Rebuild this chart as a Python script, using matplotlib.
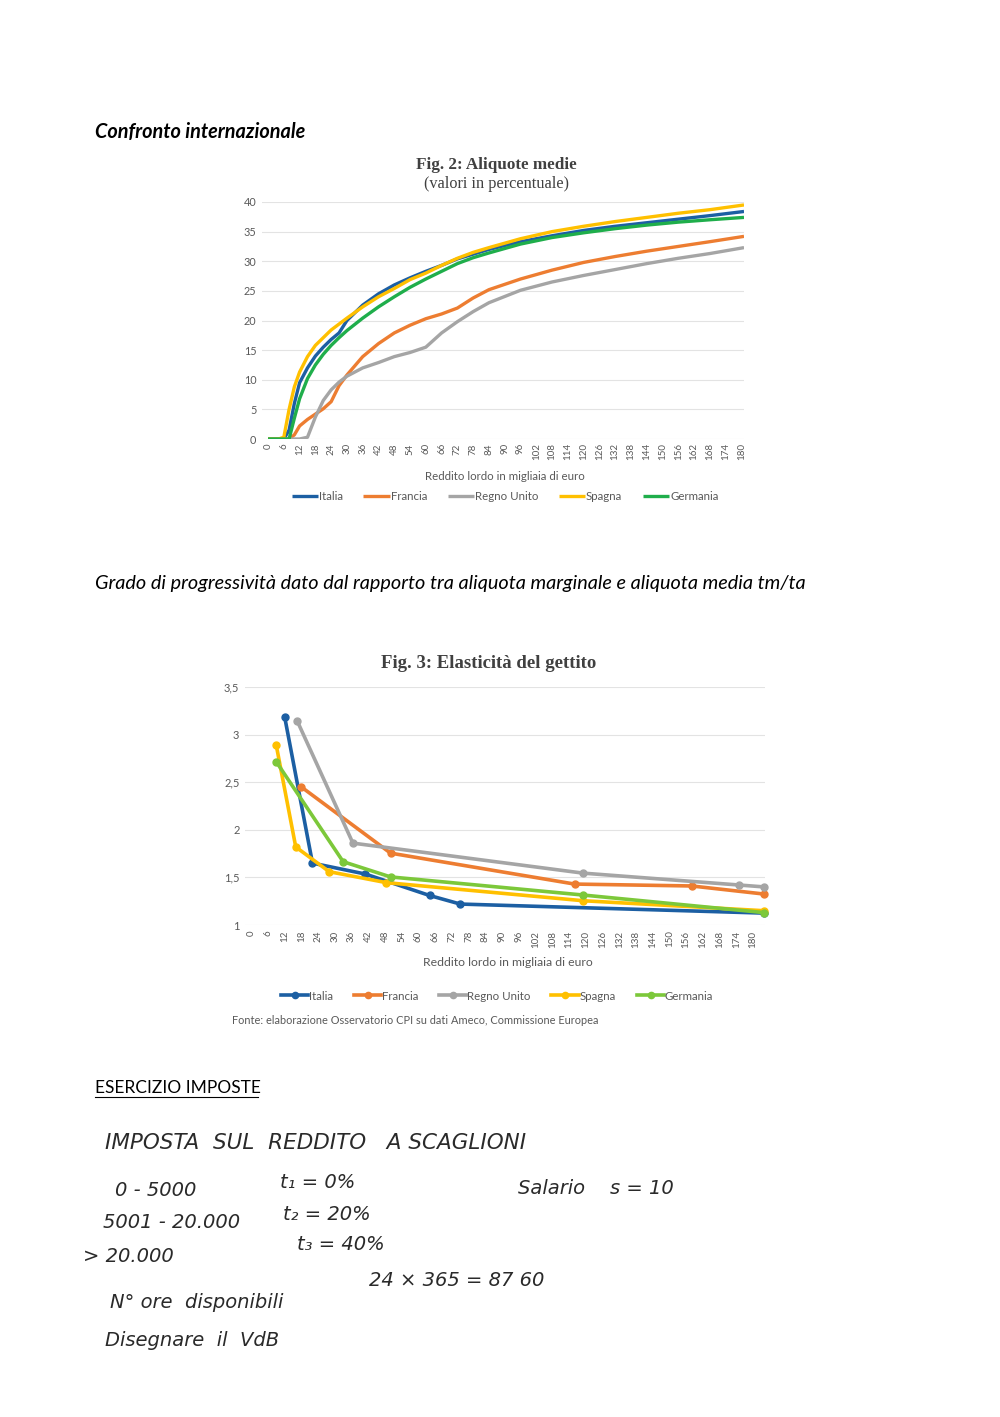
import matplotlib.pyplot as plt

# --- Fig. 2: aliquote medie (valori in percentuale) ---
redditi = [0, 4, 6, 8, 10, 12, 15, 18, 21, 24, 27, 30, 36, 42, 48, 54, 60,
           66, 72, 78, 84, 96, 108, 120, 132, 144, 156, 168, 181]
italia_medie = [0, 0, 0, 1.5, 6, 9.5, 12, 14, 15.5, 16.8, 17.9, 20, 22.6, 24.5,
                26, 27.2, 28.3, 29.3, 30.4, 31.2, 32, 33.3, 34.3, 35.2, 35.9,
                36.5, 37.1, 37.7, 38.4]
francia_medie = [0, 0, 0, 0, 0.7, 2.2, 3.3, 4.2, 5.1, 6.3, 9.0, 10.8, 13.9,
                 16.1, 17.9, 19.2, 20.3, 21.1, 22.1, 23.8, 25.2, 27, 28.5,
                 29.8, 30.8, 31.7, 32.5, 33.3, 34.2]
regno_unito_medie = [0, 0, 0, 0, 0, 0, 0.3, 3.7, 6.5, 8.3, 9.6, 10.6, 12, 12.9,
                     13.9, 14.6, 15.5, 17.9, 19.8, 21.5, 23, 25.1, 26.5, 27.6,
                     28.6, 29.6, 30.5, 31.3, 32.3]
spagna_medie = [0, 0, 0.3, 5, 8.8, 11.3, 13.9, 15.8, 17.1, 18.4, 19.4, 20.4,
                22.3, 24, 25.4, 26.9, 28, 29.3, 30.5, 31.5, 32.3, 33.8, 35,
                35.9, 36.7, 37.4, 38.1, 38.7, 39.5]
germania_medie = [0, 0, 0, 0, 3.5, 6.8, 10.2, 12.5, 14.3, 15.8, 17.1, 18.3,
                  20.4, 22.3, 24, 25.6, 27, 28.3, 29.6, 30.6, 31.4, 32.9, 34,
                  34.8, 35.5, 36.1, 36.6, 37, 37.4]

# --- Fig. 3: elasticità del gettito ---
italia_x = [12, 22, 41, 64, 75, 184]
italia_el = [3.19, 1.65, 1.535, 1.31, 1.22, 1.125]
francia_x = [18, 50, 116, 158, 184]
francia_el = [2.45, 1.755, 1.43, 1.41, 1.325]
regno_unito_x = [16.5, 36.5, 119, 175, 184]
regno_unito_el = [3.145, 1.86, 1.545, 1.42, 1.40]
spagna_x = [9, 16, 28, 48.5, 119, 184]
spagna_el = [2.89, 1.82, 1.56, 1.445, 1.255, 1.15]
germania_x = [9, 33, 50, 119, 184]
germania_el = [2.715, 1.665, 1.505, 1.315, 1.13]

paesi = ["Italia", "Francia", "Regno Unito", "Spagna", "Germania"]
tick_redditi = list(range(0, 181, 6))

colori1 = ["#1c5fa3", "#ed7d31", "#a5a5a5", "#ffc000", "#1fae4b"]
colori2 = ["#1c5fa3", "#ed7d31", "#a5a5a5", "#ffc000", "#7cc83a"]

W, H = 1000, 1417
fig = plt.figure(figsize=(W / 100, H / 100), dpi=100)
plt.rcParams["font.family"] = ["Lato", "DejaVu Sans"]


def fy(py):
    return 1 - py / H


def fx(px):
    return px / W


grigio = "#595959"

# page texts
fig.text(fx(95), fy(132), "Confronto internazionale", fontsize=14.3,
         style="italic", weight="bold", va="center")
fig.text(fx(95), fy(583), "Grado di progressività dato dal rapporto tra aliquota "
         "marginale e aliquota media tm/ta", fontsize=14.3, style="italic",
         va="center")
fig.text(fx(95), fy(1088), "ESERCIZIO IMPOSTE", fontsize=12.5, va="center")
fig.add_artist(plt.Line2D([fx(95), fx(258)], [fy(1097), fy(1097)],
                          color="black", linewidth=0.8))

# ---------- chart 1 ----------
ax1 = fig.add_axes([fx(262), fy(439), fx(744) - fx(262), fy(202) - fy(439)])
serie1 = [italia_medie, francia_medie, regno_unito_medie, spagna_medie,
          germania_medie]
for nome, valori, col in zip(paesi, serie1, colori1):
    ax1.plot(redditi, valori, color=col, linewidth=2.4, label=nome,
             solid_capstyle="butt")
ax1.set_xlim(-2.3, 181)
ax1.set_ylim(0, 40)
ax1.set_yticks(range(0, 41, 5))
ax1.set_xticks(tick_redditi)
ax1.set_xticklabels([str(v) for v in tick_redditi], rotation=90)
ax1.tick_params(axis="both", length=0, labelsize=7, labelcolor=grigio)
ax1.tick_params(axis="y", labelsize=7.8, pad=4)
ax1.tick_params(axis="x", pad=3)
ax1.grid(axis="y", color="#e3e3e3", linewidth=0.8)
ax1.set_axisbelow(True)
for s in ax1.spines.values():
    s.set_visible(False)

fig.text(fx(496), fy(165), "Fig. 2: Aliquote medie", fontsize=12.3,
         family="Liberation Serif", weight="bold", color="#404040",
         ha="center", va="center")
fig.text(fx(497), fy(184), "(valori in percentuale)", fontsize=11.7,
         family="Liberation Serif", color="#404040", ha="center",
         va="center")
fig.text(fx(505), fy(476), "Reddito lordo in migliaia di euro", fontsize=8.3,
         color=grigio, ha="center", va="center")
ax1.legend(loc="center", bbox_to_anchor=(fx(505), fy(497)),
           bbox_transform=fig.transFigure, ncol=5, frameon=False,
           fontsize=8.3, handlelength=2.3, handletextpad=0.05,
           columnspacing=1.8, labelcolor=grigio)

# ---------- chart 2 ----------
ax2 = fig.add_axes([fx(245), fy(925), fx(765) - fx(245), fy(687) - fy(925)])
serie2 = [(italia_x, italia_el), (francia_x, francia_el),
          (regno_unito_x, regno_unito_el), (spagna_x, spagna_el),
          (germania_x, germania_el)]
for nome, (xs, ys), col in zip(paesi, serie2, colori2):
    ax2.plot(xs, ys, color=col, linewidth=2.6, marker="o", markersize=5,
             label=nome, clip_on=False)
ax2.set_xlim(-2.2, 184.3)
ax2.set_ylim(1, 3.5)
ax2.set_yticks([1, 1.5, 2, 2.5, 3, 3.5])
ax2.set_yticklabels(["1", "1,5", "2", "2,5", "3", "3,5"])
ax2.set_xticks(tick_redditi)
ax2.set_xticklabels([str(v) for v in tick_redditi], rotation=90)
ax2.tick_params(axis="both", length=0, labelsize=7, labelcolor=grigio)
ax2.tick_params(axis="y", labelsize=8, pad=4)
ax2.tick_params(axis="x", pad=4)
ax2.grid(axis="y", color="#e3e3e3", linewidth=0.8)
ax2.set_axisbelow(True)
for s in ax2.spines.values():
    s.set_visible(False)

fig.text(fx(489), fy(663), "Fig. 3: Elasticità del gettito", fontsize=13.5,
         family="Liberation Serif", weight="bold", color="#404040",
         ha="center", va="center")
fig.text(fx(508), fy(963), "Reddito lordo in migliaia di euro", fontsize=8.8,
         color=grigio, ha="center", va="center")
ax2.legend(loc="center", bbox_to_anchor=(fx(497), fy(996)),
           bbox_transform=fig.transFigure, ncol=5, frameon=False,
           fontsize=8.3, handlelength=2.4, handletextpad=0.05,
           columnspacing=1.8, labelcolor=grigio, markerscale=0.9)
fig.text(fx(232), fy(1020), "Fonte: elaborazione Osservatorio CPI su dati "
         "Ameco, Commissione Europea", fontsize=7.9, color=grigio,
         va="center")

# ---------- appunti scritti a mano ----------
mano = dict(fontsize=14, color="#2a2a2a", va="center", family="DejaVu Sans",
            style="italic", weight="light")
fig.text(fx(105), fy(1143), "IMPOSTA  SUL  REDDITO   A SCAGLIONI",
         **{**mano, "fontsize": 15.5})
fig.text(fx(115), fy(1190), "0 - 5000", **mano)
fig.text(fx(280), fy(1183), "t₁ = 0%", **mano)
fig.text(fx(518), fy(1188), "Salario    s = 10", **mano)
fig.text(fx(103), fy(1222), "5001 - 20.000", **mano)
fig.text(fx(283), fy(1214), "t₂ = 20%", **mano)
fig.text(fx(83), fy(1257), "> 20.000", **mano)
fig.text(fx(297), fy(1245), "t₃ = 40%", **mano)
fig.text(fx(110), fy(1303), "N° ore  disponibili", **mano)
fig.text(fx(369), fy(1281), "24 × 365 = 87 60", **mano)
fig.text(fx(105), fy(1340), "Disegnare  il  VdB", **mano)

fig.savefig("out.png", dpi=100, facecolor="white")
